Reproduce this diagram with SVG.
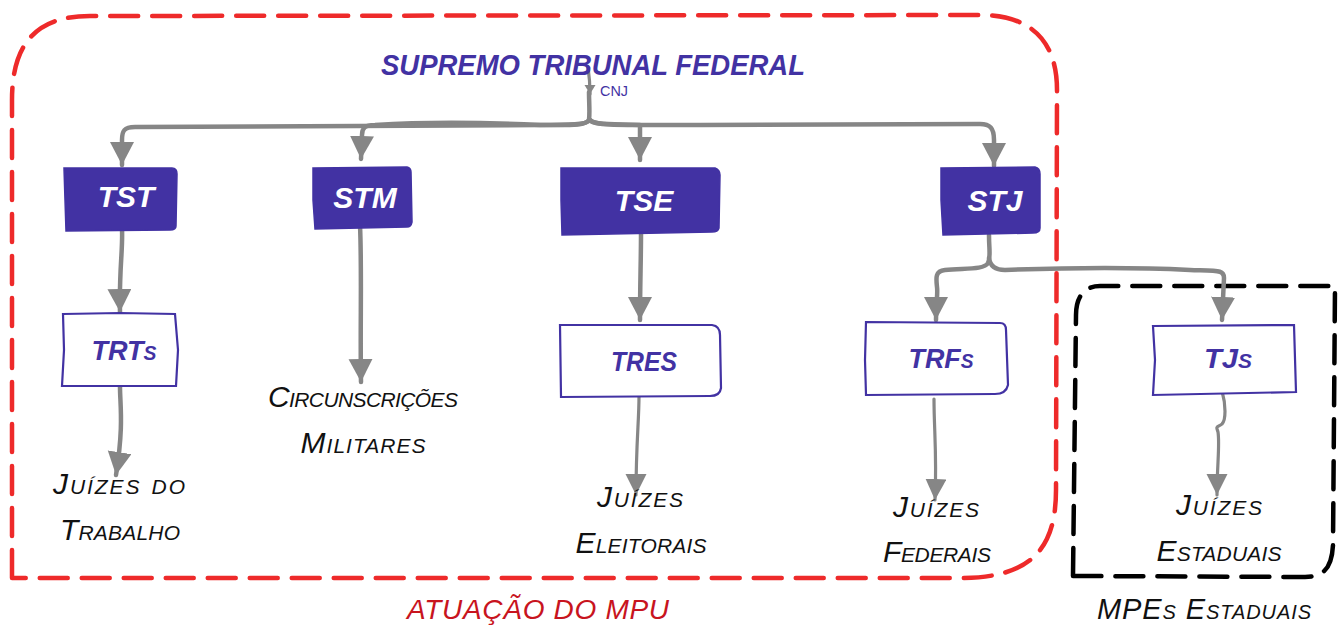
<svg xmlns="http://www.w3.org/2000/svg" width="1341" height="626" viewBox="0 0 1341 626">
<defs>
<marker id="ah" markerUnits="userSpaceOnUse" markerWidth="26" markerHeight="26" refX="23" refY="12" orient="auto"><path d="M0 0L23 12L0 24Z" fill="#868686"/></marker>
<marker id="ahs" markerUnits="userSpaceOnUse" markerWidth="24" markerHeight="24" refX="21" refY="10.5" orient="auto"><path d="M0 0L21 10.5L0 21Z" fill="#868686"/></marker>
<marker id="aht" markerUnits="userSpaceOnUse" markerWidth="12" markerHeight="12" refX="9" refY="5.5" orient="auto"><path d="M0 0L9 5.5L0 11Z" fill="#868686"/></marker>
</defs>
<style>
text{font-family:"Liberation Sans",Arial,sans-serif;font-style:italic;font-variant:small-caps;text-anchor:middle}
.f{fill:#4232a3;stroke:#4232a3;stroke-width:1.5}
.o{fill:#fff;stroke:#4232a3;stroke-width:2.2}
.w{fill:#fff;font-weight:bold;font-size:30px;font-variant:normal}
.b{fill:#4232a3;font-weight:bold;font-size:28px}
.k{fill:#111;font-size:30px}
.c{fill:none;stroke:#868686;stroke-width:4.5;stroke-linecap:round;stroke-linejoin:round}
.t{stroke-width:3.2}
.box{fill:none;stroke-width:4.5;stroke-linecap:round;stroke-linejoin:round;stroke-dasharray:28 14}
</style>
<g id="regions">
<path id="mpu-region" class="box" stroke="#ee2a2a" d="M12 578L12 100C12 45 35 16 90 16L980 15C1035 15 1057 45 1057 90L1056 490C1056 550 1030 578 960 578Z"/>
<path id="mpes-region" class="box" stroke="#000" d="M1073 576L1076 315C1076 296 1085 286 1100 286L1335 286L1333 545C1332 565 1326 577 1305 577Z"/>
</g>
<g id="connectors">
<path class="c t" d="M588 67C589 74 590 82 590 94" marker-end="url(#aht)"/>
<path class="c" d="M589 92C589 104 590 112 589 120C588 125 570 125 540 125C480 122 420 122 375 125C365 125 362 128 362 135L361 159" marker-end="url(#ah)"/>
<path class="c" d="M589 120C585 126 570 125 540 125L135 127C124 127 122 131 122 140L122 165" marker-end="url(#ah)"/>
<path class="c" d="M590 120C593 125 610 124 640 125L640 130C640 138 640 140 640 160" marker-end="url(#ah)"/>
<path class="c" d="M590 120C595 126 620 125 700 125L980 124C990 124 994 128 994 140L994 166" marker-end="url(#ah)"/>
<path class="c" d="M122 229C123 250 119 270 120 312" marker-end="url(#ah)"/>
<path class="c" d="M360 225C362 270 360 330 361 382" marker-end="url(#ah)"/>
<path class="c" d="M641 234C641 260 640 285 640 320" marker-end="url(#ah)"/>
<path class="c" d="M120 387C120 405 124 425 116 475" marker-end="url(#ah)"/>
<path class="c t" d="M639 397C639 420 636 445 636 495" marker-end="url(#ahs)"/>
<path class="c t" d="M934 399C934 430 937 455 935 500" marker-end="url(#ahs)"/>
<path class="c" d="M989 235C989 250 991 257 988 263C984 270 965 268 945 270C935 271 936 278 937 287C938 295 936 300 936 320" marker-end="url(#ah)"/>
<path class="c" d="M989 258C990 266 995 270 1005 270C1060 268 1130 267 1190 270C1220 271 1224 270 1224 278L1222 320" marker-end="url(#ah)"/>
<path class="c t" d="M1222 391C1226 405 1226 420 1222 424C1216 428 1216 426 1218 432C1220 445 1217 465 1217 495" marker-end="url(#ahs)"/>
</g>
<g id="stf"><text x="593" y="75" textLength="424" lengthAdjust="spacingAndGlyphs" style="fill:#4232a3;font-size:30px;font-weight:bold;font-variant:normal">SUPREMO TRIBUNAL FEDERAL</text></g>
<g id="cnj"><text x="614" y="96" textLength="28" lengthAdjust="spacingAndGlyphs" style="fill:#4232a3;font-size:15px;font-style:normal;font-variant:normal">CNJ</text></g>
<g id="tst"><path class="f" d="M64 168L172 168Q177 168 177 174L176 226Q176 230 170 230L66 231L65 200Z"/><text class="w" x="126" y="207">TST</text></g>
<g id="stm"><path class="f" d="M313 168L407 167Q411 168 411 172L412 222Q411 227 407 227L315 229L313 200Z"/><text class="w" x="365" y="208">STM</text></g>
<g id="tse"><path class="f" d="M561 168L715 168Q720 170 720 175L719 228Q718 232 712 232L562 235L561 200Z"/><text class="w" x="644" y="211">TSE</text></g>
<g id="stj"><path class="f" d="M941 168L1035 167Q1040 168 1040 174L1040 228Q1040 233 1033 233L943 235L941 200Z"/><text class="w" x="995" y="211">STJ</text></g>
<g id="trts"><path class="o" d="M63 314L120 313L175 314L178 350L176 386L62 386L64 350Z"/><text class="b" x="124" y="360" textLength="65" lengthAdjust="spacingAndGlyphs">TRTs</text></g>
<g id="tres"><path class="o" d="M560 325L712 325Q720 326 720 335L721 388Q720 396 710 396L561 397Z"/><text class="b" x="644" y="371" textLength="66" lengthAdjust="spacingAndGlyphs">TRES</text></g>
<g id="trfs"><path class="o" d="M866 322L1000 323Q1006 323 1006 330L1008 385Q1006 394 995 394L866 395L865 360Z"/><text class="b" x="941" y="368" textLength="65" lengthAdjust="spacingAndGlyphs">TRFs</text></g>
<g id="tjs"><path class="o" d="M1153 326L1294 325L1296 392L1153 395L1155 360Z"/><text class="b" x="1228" y="368" textLength="48" lengthAdjust="spacingAndGlyphs">TJs</text></g>
<g id="juizes-trabalho"><text class="k" x="119" y="494" textLength="132">Juízes do</text><text class="k" x="120" y="540" textLength="120">Trabalho</text></g>
<g id="circunscricoes"><text class="k" x="363" y="407" textLength="190">Circunscrições</text><text class="k" x="363" y="453" textLength="125">Militares</text></g>
<g id="juizes-eleitorais"><text class="k" x="640" y="507" textLength="86">Juízes</text><text class="k" x="641" y="553" textLength="131">Eleitorais</text></g>
<g id="juizes-federais"><text class="k" x="936" y="517" textLength="86">Juízes</text><text class="k" x="937" y="562" textLength="108">Federais</text></g>
<g id="juizes-estaduais"><text class="k" x="1219" y="515" textLength="86">Juízes</text><text class="k" x="1219" y="561" textLength="125">Estaduais</text></g>
<g id="atuacao"><text x="538" y="619" textLength="262" style="fill:#c8141e;font-size:28px;font-variant:normal">ATUAÇÃO DO MPU</text></g>
<g id="mpes"><text class="k" x="1204" y="619" textLength="214" style="font-size:29px">MPEs Estaduais</text></g>
</svg>
